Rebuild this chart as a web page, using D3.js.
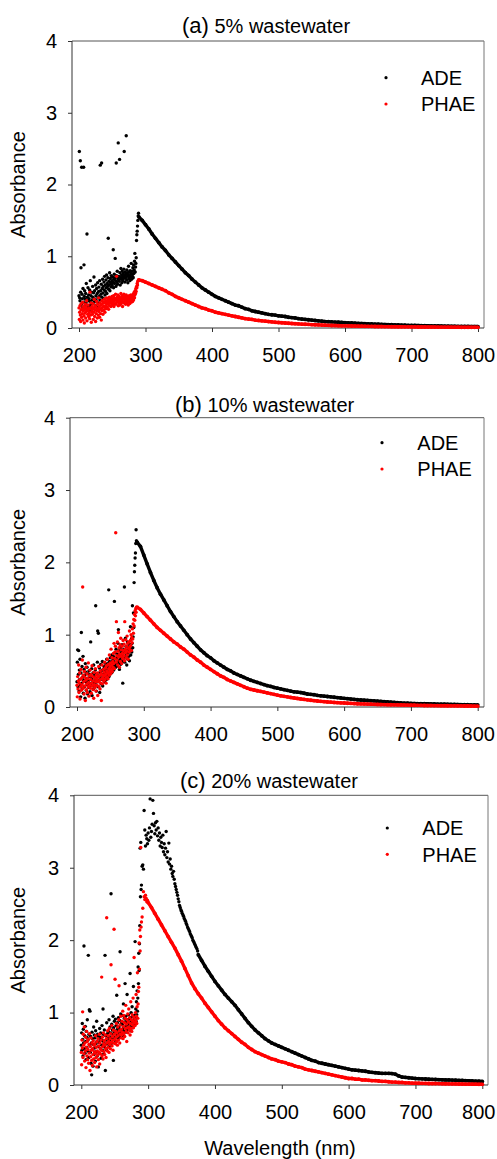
<!DOCTYPE html>
<html lang="en">
<head>
    <title>Absorbance spectra</title>
    <meta charset="utf-8">
    <script src="https://d3js.org/d3.v7.min.js"></script>
    <style>
        body { margin: 0; background: #fff; }
        svg text { font-family: "Liberation Sans", Arial, Helvetica, sans-serif; fill: #000; }
    </style>
</head>
<body>
<div id="chart"></div>
<script>
    // ---- data ----
    const ticksX = [200, 300, 400, 500, 600, 700, 800];
    const ticksY = [0, 1, 2, 3, 4];
    const seriesNames = ["ADE", "PHAE"];
    const panelLetters = ["(a)", "(b)", "(c)"];
    const panelTitles = ["5% wastewater", "10% wastewater", "20% wastewater"];

    // (a) 5% wastewater -- UV part 200-289.5 nm every 0.5 nm, visible part 290-800 nm every 5 nm
    const adeA_uv = [
        0.45, 2.46, 0.42, 0.38, 2.33, 0.50, 0.84, 0.33, 2.24, 0.47, 0.41, 0.29, 0.55, 0.36, 2.24, 0.88, 0.44, 0.52, 0.31, 0.40,
        0.48, 0.35, 0.62, 0.27, 1.31, 0.43, 0.38, 0.56, 0.30, 0.46, 0.41, 0.25, 0.53, 0.37, 0.66, 0.32, 0.45, 0.28, 0.50, 0.39,
        0.34, 0.58, 0.43, 0.27, 0.49, 0.71, 0.36, 0.52, 0.40, 0.31, 0.60, 0.45, 0.38, 0.55, 0.29, 0.48, 0.63, 0.42, 0.35, 0.51,
        0.57, 0.44, 0.66, 0.39, 2.27, 0.52, 0.47, 0.61, 2.30, 0.43, 0.55, 0.68, 0.49, 0.58, 0.41, 0.64, 0.53, 0.72, 0.46, 0.60,
        0.51, 0.67, 0.56, 0.74, 0.48, 0.62, 0.58, 0.70, 1.25, 0.54, 0.65, 0.60, 0.77, 0.52, 0.69, 0.63, 0.57, 0.73, 0.61, 0.66,
        0.59, 0.71, 0.64, 1.09, 0.56, 0.68, 0.75, 0.62, 0.70, 0.97, 0.66, 0.58, 2.30, 0.73, 0.64, 0.79, 0.61, 0.69, 2.58, 0.67,
        0.72, 0.65, 2.35, 0.77, 0.60, 0.70, 0.83, 0.68, 0.74, 0.63, 0.79, 0.71, 0.66, 0.76, 0.69, 0.82, 2.46, 0.73, 0.64, 0.78,
        0.70, 0.75, 2.68, 0.67, 0.81, 0.72, 0.77, 0.63, 0.74, 0.86, 0.69, 0.78, 0.73, 0.66, 0.80, 0.71, 0.76, 0.90, 0.68, 0.75,
        0.79, 0.72, 0.84, 0.70, 0.88, 0.76, 0.81, 0.93, 1.04, 0.78, 0.85, 0.90, 0.98, 1.22, 1.30, 1.35, 1.42, 1.50, 1.56, 1.60
    ];
    const adeA_vis = [
        1.55, 1.50, 1.44, 1.38, 1.31, 1.25, 1.19, 1.13, 1.08, 1.02,
        0.97, 0.92, 0.87, 0.82, 0.77, 0.73, 0.68, 0.64, 0.60, 0.56,
        0.53, 0.50, 0.47, 0.44, 0.42, 0.40, 0.38, 0.36, 0.34, 0.32,
        0.31, 0.29, 0.27, 0.26, 0.24, 0.23, 0.22, 0.21, 0.20, 0.19,
        0.185, 0.18, 0.17, 0.165, 0.16, 0.15, 0.145, 0.14, 0.13, 0.125,
        0.12, 0.115, 0.11, 0.105, 0.10, 0.095, 0.09, 0.088, 0.085, 0.082,
        0.08, 0.077, 0.075, 0.072, 0.07, 0.067, 0.065, 0.062, 0.06, 0.058,
        0.056, 0.054, 0.052, 0.05, 0.048, 0.046, 0.045, 0.043, 0.042, 0.04,
        0.039, 0.037, 0.036, 0.035, 0.034, 0.033, 0.032, 0.031, 0.03, 0.029,
        0.028, 0.027, 0.026, 0.025, 0.024, 0.024, 0.023, 0.022, 0.022, 0.021,
        0.02, 0.02, 0.02
    ];
    const phaeA_uv = [
        0.28, 0.12, 0.22, 0.31, 0.18, 0.09, 0.25, 0.34, 0.15, 0.27, 0.20, 0.36, 0.11, 0.24, 0.30, 0.17, 0.07, 0.26, 0.21, 0.33,
        0.14, 0.29, 0.23, 0.38, 0.10, 0.26, 0.19, 0.32, 0.24, 0.16, 0.28, 0.21, 0.13, 0.50, 0.27, 0.18, 0.35, 0.08, 0.23, 0.30,
        0.19, 0.26, 0.34, 0.12, 0.28, 0.22, 0.40, 0.16, 0.31, 0.25, 0.09, 0.29, 0.20, 0.37, 0.24, 0.14, 0.33, 0.27, 0.18, 0.42,
        0.23, 0.30, 0.15, 0.35, 0.26, 0.20, 0.32, 0.11, 0.28, 0.38, 0.24, 0.34, 0.19, 0.30, 0.36, 0.25, 0.40, 0.29, 0.22, 0.35,
        0.31, 0.38, 0.27, 0.42, 0.34, 0.29, 0.37, 0.33, 0.40, 0.26, 0.36, 0.43, 0.31, 0.38, 0.35, 0.41, 0.30, 0.39, 0.34, 0.44,
        0.37, 0.32, 0.40, 0.35, 0.45, 0.30, 0.38, 0.42, 0.34, 0.39, 0.47, 0.33, 0.41, 0.72, 0.36, 0.43, 0.38, 0.46, 0.31, 0.40,
        0.35, 0.44, 0.39, 0.32, 0.42, 0.37, 0.48, 0.34, 0.41, 0.38, 0.45, 0.30, 0.40, 0.36, 0.43, 0.47, 0.35, 0.41, 0.38, 0.44,
        0.33, 0.40, 0.46, 0.37, 0.42, 0.35, 0.39, 0.44, 0.32, 0.41, 0.37, 0.45, 0.40, 0.34, 0.43, 0.38, 0.46, 0.36, 0.42, 0.39,
        0.44, 0.37, 0.41, 0.47, 0.39, 0.43, 0.50, 0.42, 0.46, 0.52, 0.48, 0.55, 0.51, 0.58, 0.56, 0.62, 0.60, 0.65, 0.66, 0.67
    ];
    const phaeA_vis = [
        0.67, 0.66, 0.64, 0.62, 0.60, 0.58, 0.56, 0.54, 0.52, 0.49,
        0.47, 0.44, 0.42, 0.40, 0.38, 0.36, 0.34, 0.32, 0.30, 0.28,
        0.27, 0.25, 0.24, 0.22, 0.21, 0.20, 0.19, 0.18, 0.17, 0.16,
        0.15, 0.14, 0.13, 0.125, 0.12, 0.11, 0.105, 0.10, 0.095, 0.09,
        0.085, 0.08, 0.077, 0.073, 0.07, 0.066, 0.063, 0.06, 0.057, 0.054,
        0.052, 0.05, 0.047, 0.045, 0.043, 0.041, 0.039, 0.037, 0.035, 0.034,
        0.032, 0.031, 0.03, 0.029, 0.028, 0.027, 0.026, 0.025, 0.024, 0.023,
        0.022, 0.021, 0.02, 0.02, 0.019, 0.019, 0.018, 0.018, 0.017, 0.017,
        0.016, 0.016, 0.015, 0.015, 0.014, 0.014, 0.014, 0.013, 0.013, 0.013,
        0.012, 0.012, 0.012, 0.011, 0.011, 0.011, 0.011, 0.01, 0.01, 0.01,
        0.01, 0.01, 0.01
    ];

    // (b) 10% wastewater
    const adeB_uv = [
        0.35, 0.62, 0.79, 0.28, 0.45, 0.78, 0.22, 0.51, 0.38, 0.66, 0.30, 0.14, 0.47, 1.03, 0.33, 0.56, 0.26, 0.41, 0.70, 0.19,
        0.37, 0.52, 0.28, 0.44, 0.12, 0.60, 0.35, 0.48, 0.23, 0.39, 0.55, 0.31, 0.18, 0.46, 0.36, 0.27, 0.50, 0.42, 0.33, 0.21,
        0.45, 0.90, 0.30, 0.38, 0.53, 0.16, 0.41, 0.34, 0.47, 0.25, 0.58, 0.36, 0.29, 0.44, 0.32, 0.51, 1.40, 0.39, 0.22, 0.46,
        0.35, 0.62, 1.05, 0.28, 1.02, 0.43, 0.37, 0.54, 0.20, 0.48, 0.41, 0.59, 0.32, 0.50, 0.45, 0.38, 0.63, 0.29, 0.52, 0.44,
        0.40, 0.56, 0.47, 0.35, 0.61, 0.50, 0.43, 0.58, 0.38, 0.66, 0.52, 0.45, 0.60, 0.48, 0.55, 1.62, 0.42, 0.63, 0.57, 0.50,
        0.68, 0.46, 0.59, 0.53, 0.72, 0.48, 0.64, 0.56, 0.61, 0.70, 0.51, 0.66, 1.46, 0.58, 0.75, 0.62, 0.55, 0.80, 0.60, 0.68,
        0.57, 0.73, 0.64, 0.88, 1.07, 0.61, 0.78, 0.52, 0.70, 0.66, 0.82, 0.59, 0.75, 0.69, 0.63, 0.86, 0.72, 0.33, 0.77, 0.65,
        0.80, 0.70, 1.66, 0.62, 0.76, 0.95, 0.68, 0.84, 0.73, 0.58, 0.79, 0.90, 0.66, 0.75, 0.82, 0.70, 0.87, 0.64, 0.78, 0.85,
        1.11, 0.72, 0.80, 0.94, 0.76, 0.88, 1.40, 0.82, 0.97, 1.30, 1.10, 1.72, 1.87, 1.96, 2.06, 2.13, 2.26, 2.45, 2.30, 2.28
    ];
    const adeB_vis = [
        2.28, 2.22, 2.10, 1.98, 1.86, 1.75, 1.65, 1.56, 1.48, 1.40,
        1.32, 1.25, 1.18, 1.12, 1.06, 1.00, 0.94, 0.89, 0.84, 0.79,
        0.75, 0.71, 0.68, 0.64, 0.61, 0.58, 0.55, 0.52, 0.50, 0.47,
        0.45, 0.43, 0.41, 0.39, 0.37, 0.355, 0.34, 0.325, 0.31, 0.295,
        0.285, 0.27, 0.26, 0.25, 0.24, 0.23, 0.22, 0.21, 0.205, 0.20,
        0.19, 0.18, 0.175, 0.17, 0.16, 0.155, 0.15, 0.145, 0.14, 0.135,
        0.13, 0.125, 0.12, 0.115, 0.11, 0.105, 0.10, 0.097, 0.094, 0.09,
        0.087, 0.084, 0.08, 0.077, 0.074, 0.07, 0.067, 0.064, 0.06, 0.057,
        0.054, 0.052, 0.05, 0.048, 0.047, 0.046, 0.045, 0.044, 0.043, 0.042,
        0.04, 0.039, 0.038, 0.037, 0.036, 0.035, 0.034, 0.033, 0.032, 0.031,
        0.03, 0.03, 0.03
    ];
    const phaeB_uv = [
        0.30, 0.14, 0.42, 0.25, 0.36, 0.58, 0.20, 0.33, 0.47, 0.11, 0.38, 0.28, 0.52, 0.23, 0.40, 0.31, 0.65, 1.66, 0.26, 0.44,
        0.35, 0.18, 0.49, 0.29, 0.41, 0.09, 0.37, 0.55, 0.24, 0.32, 0.46, 0.20, 0.39, 0.28, 0.61, 0.34, 0.15, 0.43, 0.30, 0.51,
        0.26, 0.38, 0.45, 0.19, 0.33, 0.57, 0.29, 0.42, 0.24, 0.36, 0.12, 0.48, 0.31, 0.40, 0.27, 0.53, 0.35, 0.22, 0.44, 0.38,
        0.30, 0.47, 0.16, 0.41, 0.35, 0.56, 0.28, 0.43, 0.37, 0.25, 0.50, 0.33, 0.46, 0.09, 0.39, 0.58, 0.32, 0.44, 0.40, 0.52,
        0.36, 0.48, 0.43, 0.62, 0.38, 0.54, 0.45, 0.33, 0.57, 0.50, 0.41, 0.66, 0.47, 0.39, 0.59, 0.53, 0.44, 0.72, 0.49, 0.56,
        0.61, 0.46, 0.80, 0.52, 0.58, 0.68, 0.49, 0.63, 0.55, 0.74, 0.60, 0.88, 0.53, 0.67, 0.76, 0.84, 2.41, 0.62, 1.18, 0.71,
        0.65, 0.90, 0.58, 0.77, 1.03, 0.69, 0.82, 0.55, 0.73, 0.86, 0.63, 0.95, 0.70, 0.79, 0.60, 0.84, 0.74, 0.67, 0.92, 0.78,
        0.71, 0.87, 0.64, 1.18, 0.80, 0.75, 0.93, 0.68, 0.84, 0.77, 0.98, 0.72, 0.88, 0.66, 0.81, 0.90, 0.76, 1.05, 0.83, 0.79,
        0.92, 0.85, 1.00, 0.78, 0.96, 0.89, 1.08, 0.94, 1.15, 1.02, 1.21, 1.12, 1.28, 1.20, 1.33, 1.26, 1.36, 1.31, 1.38, 1.37
    ];
    const phaeB_vis = [
        1.38, 1.35, 1.30, 1.25, 1.20, 1.15, 1.10, 1.06, 1.02, 0.98,
        0.94, 0.90, 0.87, 0.83, 0.80, 0.76, 0.72, 0.69, 0.65, 0.62,
        0.58, 0.55, 0.52, 0.49, 0.46, 0.43, 0.41, 0.38, 0.36, 0.34,
        0.32, 0.30, 0.28, 0.26, 0.245, 0.235, 0.225, 0.215, 0.205, 0.195,
        0.185, 0.175, 0.165, 0.155, 0.147, 0.14, 0.132, 0.125, 0.118, 0.111,
        0.105, 0.099, 0.093, 0.088, 0.083, 0.078, 0.074, 0.07, 0.067, 0.063,
        0.06, 0.057, 0.055, 0.052, 0.05, 0.048, 0.045, 0.043, 0.042, 0.04,
        0.039, 0.037, 0.035, 0.034, 0.033, 0.032, 0.031, 0.03, 0.029, 0.028,
        0.027, 0.026, 0.025, 0.024, 0.023, 0.022, 0.021, 0.02, 0.02, 0.019,
        0.019, 0.018, 0.018, 0.017, 0.016, 0.016, 0.015, 0.015, 0.014, 0.014,
        0.013, 0.012, 0.012
    ];

    // (c) 20% wastewater -- ADE: 200-289.5 (0.5 nm), 290-374 (1 nm), 375-800 (5 nm)
    const adeC_uv = [
        0.55, 0.72, 0.48, 0.85, 0.63, 0.40, 0.77, 0.58, 1.92, 0.50, 0.68, 0.44, 0.81, 0.60, 0.35, 0.74, 0.52, 0.66, 0.90, 0.47,
        0.62, 1.79, 0.38, 0.70, 1.04, 0.55, 1.02, 0.45, 0.67, 0.30, 0.58, 0.14, 0.73, 0.49, 0.64, 0.26, 0.56, 0.80, 0.42, 0.69,
        0.51, 0.65, 0.33, 0.75, 0.57, 0.46, 0.88, 0.60, 0.40, 0.70, 0.53, 0.25, 0.67, 0.59, 0.44, 0.78, 0.63, 0.50, 0.72, 0.37,
        0.66, 0.55, 0.82, 0.48, 0.61, 1.05, 0.70, 0.43, 0.58, 0.76, 0.52, 1.79, 0.20, 0.68, 0.62, 0.49, 0.86, 0.57, 0.71, 0.64,
        0.59, 0.74, 0.53, 0.90, 0.67, 0.62, 0.80, 0.55, 0.72, 2.64, 0.65, 0.84, 0.58, 0.76, 0.70, 0.95, 0.34, 0.79, 0.63, 0.88,
        0.73, 0.66, 0.91, 0.60, 0.82, 0.75, 1.24, 0.69, 0.86, 0.78, 0.64, 0.93, 0.71, 0.80, 0.67, 0.89, 1.84, 0.76, 0.98, 0.72,
        0.85, 0.70, 0.96, 0.77, 0.83, 0.68, 1.12, 0.80, 0.74, 0.92, 0.87, 1.40, 0.79, 0.95, 0.73, 0.88, 0.82, 1.25, 0.76, 0.90,
        0.84, 0.97, 0.78, 0.91, 0.86, 0.80, 1.54, 0.93, 0.75, 1.00, 0.88, 0.82, 1.08, 0.79, 0.94, 0.87, 1.36, 0.83, 0.96, 0.90,
        0.85, 1.98, 0.92, 1.05, 0.88, 1.15, 0.97, 1.30, 1.02, 1.20, 1.63, 1.40, 1.82, 1.58, 1.95, 2.20, 3.27, 2.60, 3.35, 2.70
    ];
    const adeC_peak = [
        2.76, 3.02, 3.04, 2.98, 3.79, 3.52, 3.30, 3.45, 3.40, 3.33,
        3.48, 3.38, 3.55, 3.95, 3.42, 3.50, 3.60, 3.93, 3.75, 3.58,
        3.47, 3.62, 3.52, 3.64, 3.44, 3.55, 3.38, 3.48, 3.30, 3.42,
        3.35, 3.28, 3.45, 3.22, 3.33, 3.18, 3.27, 3.50, 3.14, 3.22,
        3.08, 3.34, 3.05, 3.12, 2.98, 3.02, 2.92, 2.88, 2.95, 2.84,
        2.78, 2.74, 2.70, 2.66, 2.62, 2.57, 2.53, 2.48, 2.45, 2.42,
        2.40, 2.37, 2.35, 2.33, 2.30, 2.28, 2.26, 2.23, 2.21, 2.18,
        2.16, 2.14, 2.12, 2.09, 2.07, 2.05, 2.03, 2.00, 1.98, 1.96,
        1.94, 1.92, 1.90, 1.88, 1.85
    ];
    const adeC_vis = [
        1.80, 1.72, 1.64, 1.57, 1.50, 1.43, 1.37, 1.31, 1.25, 1.20,
        1.15, 1.10, 1.04, 0.98, 0.92, 0.86, 0.81, 0.76, 0.72, 0.68,
        0.64, 0.61, 0.58, 0.56, 0.54, 0.52, 0.50, 0.48, 0.46, 0.44,
        0.42, 0.40, 0.38, 0.36, 0.34, 0.33, 0.31, 0.30, 0.29, 0.28,
        0.27, 0.26, 0.25, 0.24, 0.23, 0.22, 0.21, 0.205, 0.20, 0.195,
        0.19, 0.18, 0.175, 0.17, 0.165, 0.16, 0.16, 0.16, 0.158, 0.15,
        0.125, 0.11, 0.105, 0.10, 0.095, 0.09, 0.088, 0.085, 0.083, 0.08,
        0.078, 0.076, 0.074, 0.072, 0.07, 0.07, 0.068, 0.066, 0.064, 0.062,
        0.06, 0.058, 0.056, 0.054, 0.052, 0.05
    ];
    // PHAE: 200-289.5 (0.5 nm), 290-299 (1 nm), 300-800 (5 nm)
    const phaeC_uv = [
        0.45, 0.28, 0.62, 0.51, 1.01, 0.38, 0.70, 0.55, 0.43, 0.80, 0.33, 0.58, 0.47, 0.66, 0.24, 0.52, 0.74, 0.40, 0.60, 0.35,
        0.49, 0.63, 0.30, 0.56, 0.44, 0.71, 0.20, 0.53, 0.39, 0.65, 0.48, 0.34, 0.58, 0.27, 0.50, 0.42, 0.61, 0.36, 0.55, 0.46,
        0.31, 0.57, 0.44, 0.68, 0.38, 0.52, 0.25, 0.60, 0.47, 0.41, 0.64, 0.35, 0.54, 0.45, 0.70, 0.29, 0.58, 0.50, 0.43, 0.62,
        0.48, 1.49, 0.40, 0.66, 0.53, 0.36, 0.72, 0.57, 0.46, 0.61, 0.42, 0.55, 0.69, 0.50, 0.38, 0.64, 2.31, 0.58, 0.47, 0.75,
        0.52, 0.68, 0.60, 0.45, 0.78, 0.56, 0.64, 0.50, 0.71, 1.66, 0.59, 0.82, 0.54, 0.67, 0.62, 0.48, 0.76, 0.58, 2.15, 0.70,
        0.63, 1.46, 0.57, 0.74, 0.66, 0.85, 0.60, 0.72, 0.55, 0.80, 0.68, 0.62, 0.90, 1.37, 0.75, 0.58, 0.83, 0.70, 0.95, 0.65,
        0.77, 0.69, 0.88, 0.73, 1.02, 0.64, 0.81, 0.96, 0.71, 0.86, 0.67, 0.92, 0.78, 1.10, 0.74, 0.84, 0.60, 0.90, 0.79, 0.98,
        0.72, 0.87, 1.05, 0.80, 0.76, 0.93, 0.69, 0.85, 1.15, 0.78, 0.90, 0.74, 0.97, 0.83, 0.88, 1.20, 0.79, 0.94, 1.76, 0.86,
        0.91, 0.82, 1.00, 0.88, 1.25, 0.95, 0.85, 1.08, 1.55, 0.92, 1.12, 1.29, 1.35, 1.96, 1.60, 2.14, 1.85, 2.05, 3.28, 2.18
    ];
    const phaeC_peak = [2.25, 2.32, 2.44, 2.67, 2.60, 2.56, 2.62, 2.58, 2.53, 2.55];
    const phaeC_vis = [
        2.52, 2.45, 2.37, 2.29, 2.21, 2.13, 2.05, 1.97, 1.89, 1.80,
        1.71, 1.61, 1.51, 1.41, 1.33, 1.26, 1.20, 1.13, 1.07, 1.01,
        0.95, 0.89, 0.84, 0.79, 0.75, 0.71, 0.67, 0.63, 0.59, 0.56,
        0.52, 0.49, 0.46, 0.44, 0.42, 0.40, 0.38, 0.36, 0.35, 0.33,
        0.32, 0.31, 0.29, 0.28, 0.26, 0.25, 0.24, 0.22, 0.21, 0.20,
        0.19, 0.18, 0.17, 0.16, 0.15, 0.14, 0.13, 0.12, 0.11, 0.10,
        0.09, 0.09, 0.08, 0.08, 0.07, 0.07, 0.065, 0.06, 0.06, 0.055,
        0.05, 0.05, 0.045, 0.04, 0.04, 0.035, 0.035, 0.03, 0.03, 0.025,
        0.025, 0.024, 0.023, 0.022, 0.021, 0.02, 0.02, 0.019, 0.018, 0.017,
        0.016, 0.015, 0.015, 0.014, 0.013, 0.012, 0.012, 0.011, 0.011, 0.01,
        0.01
    ];

    // segments: [first wavelength, step (nm), values, drawn as dense curve?]
    const panelSeries = [
        [
            [[200, 0.5, adeA_uv, false], [290, 5, adeA_vis, true]],
            [[200, 0.5, phaeA_uv, false], [290, 5, phaeA_vis, true]]
        ],
        [
            [[200, 0.5, adeB_uv, false], [290, 5, adeB_vis, true]],
            [[200, 0.5, phaeB_uv, false], [290, 5, phaeB_vis, true]]
        ],
        [
            [[200, 0.5, adeC_uv, false], [290, 1, adeC_peak, false], [375, 5, adeC_vis, true]],
            [[200, 0.5, phaeC_uv, false], [290, 1, phaeC_peak, false], [300, 5, phaeC_vis, true]]
        ]
    ];

    const colors = ["#000000", "#ff0000"];

    // ---- layout (pixel positions of each panel) ----
    const layouts = [
        {left: 72, right: 484, top: 41, bottom: 328, xa: 79, xb: 478, titleX: 182, titleY: 33, legX: 386, legY: 77.7, legTextX: 421},
        {left: 70, right: 484, top: 417.7, bottom: 707, xa: 77, xb: 477.7, titleX: 175, titleY: 411.7, legX: 382, legY: 442.7, legTextX: 417.3},
        {left: 74, right: 488, top: 795.3, bottom: 1085, xa: 81.3, xb: 482.3, titleX: 180, titleY: 788.3, legX: 387.3, legY: 828, legTextX: 422.3}
    ];

    const svg = d3.select("#chart")
        .append("svg")
        .attr("width", 497)
        .attr("height", 1159);

    const toPoints = (start, step, values) => values.map((v, i) => ({w: start + i * step, v: v}));

    layouts.forEach((L, p) => {
        const g = svg.append("g");

        const x = d3.scaleLinear().domain([200, 800]).range([L.xa, L.xb]);
        const y = d3.scaleLinear().domain([0, 4]).range([L.bottom, L.top]);

        // frame
        g.append("line").attr("x1", L.left).attr("x2", L.right).attr("y1", L.top).attr("y2", L.top)
            .attr("stroke", "#555").attr("stroke-width", 1);
        g.append("line").attr("x1", L.right).attr("x2", L.right).attr("y1", L.top).attr("y2", L.bottom)
            .attr("stroke", "#777").attr("stroke-width", 1);

        // axes
        const xAxis = g.append("g")
            .attr("transform", `translate(0,${L.bottom})`)
            .call(d3.axisBottom(x).tickValues(ticksX).tickSize(4).tickPadding(16).tickFormat(d3.format("d")));
        const yAxis = g.append("g")
            .attr("transform", `translate(${L.left},0)`)
            .call(d3.axisLeft(y).tickValues(ticksY).tickSize(4).tickPadding(11).tickFormat(d3.format("d")));
        [xAxis, yAxis].forEach(ax => {
            ax.select(".domain").remove();
            ax.selectAll(".tick line").attr("stroke", "#333");
            ax.selectAll(".tick text").attr("font-size", 20).attr("fill", "#000")
                .attr("font-family", "'Liberation Sans', Arial, sans-serif");
        });
        // keep the last x label inside the page
        xAxis.selectAll(".tick text")
            .filter(d => d === 800)
            .attr("dx", x(800) + 16.7 > 495 ? 495 - (x(800) + 16.7) : 0);

        g.append("line").attr("x1", L.left).attr("x2", L.right).attr("y1", L.bottom).attr("y2", L.bottom)
            .attr("stroke", "#333").attr("stroke-width", 1);
        g.append("line").attr("x1", L.left).attr("x2", L.left).attr("y1", L.top).attr("y2", L.bottom)
            .attr("stroke", "#333").attr("stroke-width", 1);

        // title
        const t = g.append("text").attr("x", L.titleX).attr("y", L.titleY);
        t.append("tspan").attr("font-size", 22).text(panelLetters[p]);
        t.append("tspan").attr("font-size", 20).text(" " + panelTitles[p]);

        // y label
        g.append("text")
            .attr("transform", `translate(25,${(L.top + L.bottom) / 2}) rotate(-90)`)
            .attr("text-anchor", "middle")
            .attr("font-size", 20)
            .text("Absorbance");

        // series: ADE first, PHAE on top
        panelSeries[p].forEach((segments, s) => {
            segments.forEach(([start, step, values, dense]) => {
                const pts = toPoints(start, step, values);
                if (dense) {
                    g.append("path")
                        .datum(pts)
                        .attr("fill", "none")
                        .attr("stroke", colors[s])
                        .attr("stroke-width", 3.4)
                        .attr("stroke-linejoin", "round")
                        .attr("d", d3.line().x(d => x(d.w)).y(d => y(d.v)));
                }
                g.selectAll(null)
                    .data(pts)
                    .enter()
                    .append("circle")
                    .attr("cx", d => x(d.w))
                    .attr("cy", d => y(d.v))
                    .attr("r", dense ? 1.9 : 1.7)
                    .attr("fill", colors[s]);
            });
        });

        // legend
        seriesNames.forEach((name, s) => {
            const ly = L.legY + s * 26.3;
            g.append("circle").attr("cx", L.legX).attr("cy", ly).attr("r", 1.6).attr("fill", colors[s]);
            g.append("text").attr("x", L.legTextX).attr("y", ly + 7.4).attr("font-size", 20).text(name);
        });
    });

    // x label
    svg.append("text")
        .attr("x", 280)
        .attr("y", 1155)
        .attr("text-anchor", "middle")
        .attr("font-size", 20)
        .text("Wavelength (nm)");
</script>
</body>
</html>
